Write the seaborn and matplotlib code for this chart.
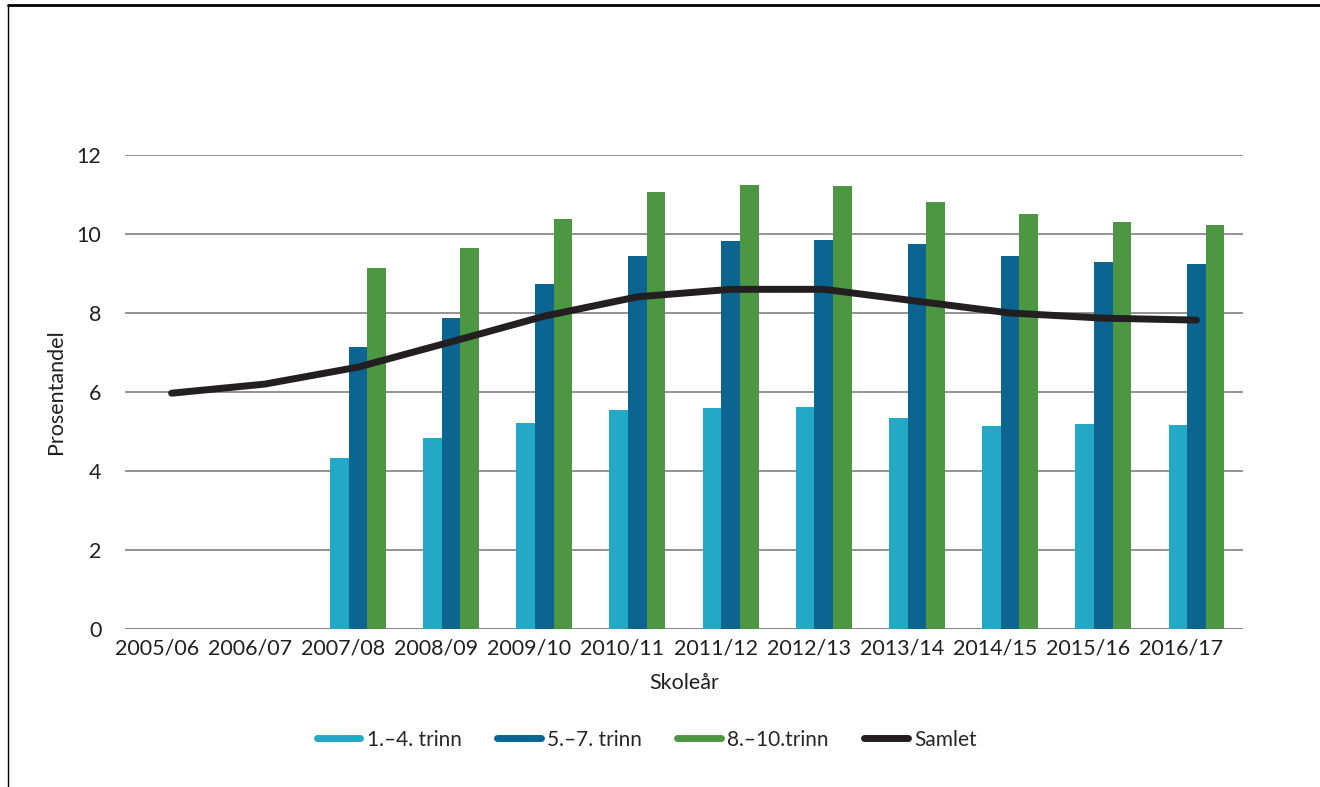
import numpy as np
import pandas as pd
import matplotlib
matplotlib.use("Agg")
import matplotlib.pyplot as plt
import matplotlib.transforms as mtrans
from matplotlib.lines import Line2D
import seaborn as sns

# Data
years = ["2005/06", "2006/07", "2007/08", "2008/09", "2009/10", "2010/11",
         "2011/12", "2012/13", "2013/14", "2014/15", "2015/16", "2016/17"]
trinn_1_4 = [np.nan, np.nan, 4.33, 4.84, 5.22, 5.54, 5.59, 5.62, 5.34, 5.14, 5.19, 5.16]
trinn_5_7 = [np.nan, np.nan, 7.14, 7.87, 8.73, 9.44, 9.82, 9.85, 9.75, 9.44, 9.29, 9.24]
trinn_8_10 = [np.nan, np.nan, 9.14, 9.65, 10.38, 11.06, 11.24, 11.22, 10.81, 10.51, 10.30, 10.23]
samlet = [5.97, 6.2, 6.63, 7.27, 7.92, 8.41, 8.6, 8.6, 8.3, 8.0, 7.87, 7.82]
series_names = ["1.\u20134. trinn", "5.\u20137. trinn", "8.\u201310.trinn"]
line_name = "Samlet"

colors = ["#23a9c6", "#0b6590", "#4e9742"]
line_color = "#231f20"

df = pd.DataFrame({
    "year": years * 3,
    "trinn": [series_names[0]] * 12 + [series_names[1]] * 12 + [series_names[2]] * 12,
    "value": trinn_1_4 + trinn_5_7 + trinn_8_10,
})

sns.set_style("white")
plt.rcParams["font.family"] = ["Lato", "Open Sans", "DejaVu Sans"]

fig = plt.figure(figsize=(13.2, 7.87), dpi=100)
ax = fig.add_axes([0.0947, 0.2008, 0.847, 0.6022])

sns.barplot(data=df, x="year", y="value", hue="trinn", order=years,
            hue_order=series_names, palette=colors, width=0.6, gap=0,
            saturation=1, linewidth=0, legend=False, ax=ax)
ax.plot(np.arange(len(years)), samlet, color=line_color, lw=5,
        solid_capstyle="round", solid_joinstyle="round", zorder=5)

ax.set_xlim(-0.5, len(years) - 0.5)
ax.set_ylim(0, 12)
ax.set_yticks(range(0, 13, 2))
ax.yaxis.grid(True, color="#8a8a8a", lw=1.3)
ax.set_axisbelow(True)
for s in ax.spines.values():
    s.set_visible(False)
ax.axhline(0, color="#555555", lw=1.3, zorder=0.5)
ax.tick_params(axis="y", length=0, pad=17, labelsize=15.5, labelcolor="#231f20")
ax.tick_params(axis="x", length=0, pad=7, labelsize=15.5, labelcolor="#231f20")
# tick labels sit a little left of the group centres in the reference
shift = mtrans.ScaledTranslation(-15 / 100, 0, fig.dpi_scale_trans)
for lbl in ax.get_xticklabels():
    lbl.set_transform(lbl.get_transform() + shift)
ax.set_xlabel("Skole\u00e5r", fontsize=15.5, color="#231f20", labelpad=10)
ax.set_ylabel("Prosentandel", fontsize=15.5, color="#231f20", labelpad=8)

handles = [Line2D([], [], color=c, lw=5) for c in colors]
handles.append(Line2D([], [], color=line_color, lw=5))
fig.legend(handles, series_names + [line_name], loc="center",
           bbox_to_anchor=(0.49, 0.06), ncol=4, frameon=False, fontsize=15,
           handlelength=2.1, handletextpad=0.3, columnspacing=1.7)

# page border lines (top and left)
fig.add_artist(Line2D([0.006, 1], [0.994, 0.994], color="black", lw=2,
                      transform=fig.transFigure))
fig.add_artist(Line2D([0.006, 0.006], [0, 0.994], color="black", lw=1,
                      transform=fig.transFigure))

fig.savefig("out.png", dpi=100)
